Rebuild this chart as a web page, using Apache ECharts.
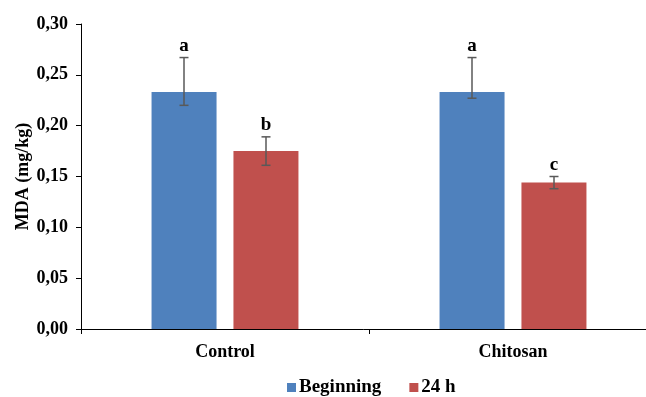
<!DOCTYPE html>
<html>
<head>
<meta charset="utf-8">
<script src="https://cdn.jsdelivr.net/npm/echarts@6/dist/echarts.min.js"></script>
<style>
html,body{margin:0;padding:0;background:#fff;}
#chart{width:646px;height:397px;}
</style>
</head>
<body>
<div id="chart"></div>
<script>
var categories = ['Control', 'Chitosan'];
var seriesNames = ['Beginning', '24 h'];
var beginningValues = [0.233, 0.233];
var beginningErrLow = [0.220, 0.227];
var beginningErrHigh = [0.267, 0.267];
var beginningLetters = ['a', 'a'];
var h24Values = [0.175, 0.144];
var h24ErrLow = [0.161, 0.138];
var h24ErrHigh = [0.189, 0.150];
var h24Letters = ['b', 'c'];
var yTicks = [0, 0.05, 0.10, 0.15, 0.20, 0.25, 0.30];

var FONT = '"Liberation Serif", "Times New Roman", serif';
var BLUE = '#4F81BD', RED = '#C0504D';

function errSeries(low, high, letters, offset) {
  var data = categories.map(function (c, i) { return [i, low[i], high[i], letters[i]]; });
  return {
    type: 'custom',
    silent: true,
    z: 5,
    clip: false,
    data: data,
    renderItem: function (params, api) {
      var idx = api.value(0);
      var pLow = api.coord([idx, api.value(1)]);
      var pHigh = api.coord([idx, api.value(2)]);
      var x = pLow[0] + offset;
      var cap = 4.5;
      var st = { stroke: '#595959', lineWidth: 1.5 };
      return {
        type: 'group',
        children: [
          { type: 'line', shape: { x1: x, y1: pLow[1], x2: x, y2: pHigh[1] }, style: st },
          { type: 'line', shape: { x1: x - cap, y1: pLow[1], x2: x + cap, y2: pLow[1] }, style: st },
          { type: 'line', shape: { x1: x - cap, y1: pHigh[1], x2: x + cap, y2: pHigh[1] }, style: st },
          { type: 'text', style: { text: letters[params.dataIndex], x: x, y: pHigh[1] - 2,
              align: 'center', verticalAlign: 'bottom', fill: '#000',
              font: 'bold 19px ' + FONT } }
        ]
      };
    }
  };
}

var chart = echarts.init(document.getElementById('chart'), null, { renderer: 'canvas' });
chart.setOption({
  animation: false,
  backgroundColor: '#fff',
  grid: { left: 81, top: 24, right: -11, bottom: 68, containLabel: false, outerBoundsMode: 'none' },
  legend: {
    data: seriesNames,
    left: 282,
    top: 373,
    itemWidth: 9,
    itemHeight: 9,
    itemGap: 28,
    icon: 'rect',
    textStyle: { fontFamily: FONT, fontWeight: 'bold', fontSize: 19, color: '#000', padding: [0, 0, 0, -2] }
  },
  xAxis: {
    type: 'category',
    data: categories,
    axisLine: { lineStyle: { color: '#000', width: 1 } },
    axisTick: { show: true, length: 5, lineStyle: { color: '#000' } },
    axisLabel: { color: '#000', fontFamily: FONT, fontWeight: 'bold', fontSize: 18, margin: 14 }
  },
  yAxis: {
    type: 'value',
    min: 0,
    max: 0.3,
    interval: 0.05,
    name: 'MDA (mg/kg)',
    nameLocation: 'middle',
    nameGap: 49,
    nameMoveOverlap: false,
    nameTextStyle: { color: '#000', fontFamily: FONT, fontWeight: 'bold', fontSize: 18 },
    axisLine: { show: true, lineStyle: { color: '#000', width: 1 } },
    axisTick: { show: true, length: 5, lineStyle: { color: '#000' } },
    splitLine: { show: false },
    axisLabel: {
      color: '#000', fontFamily: FONT, fontWeight: 'bold', fontSize: 18, margin: 13,
      formatter: function (v) { return v.toFixed(2).replace('.', ','); }
    }
  },
  series: [
    { name: seriesNames[0], type: 'bar', data: beginningValues, barWidth: 65, barGap: '26%',
      itemStyle: { color: BLUE } },
    { name: seriesNames[1], type: 'bar', data: h24Values, barWidth: 65, barGap: '26%',
      itemStyle: { color: RED } },
    errSeries(beginningErrLow, beginningErrHigh, beginningLetters, -41),
    errSeries(h24ErrLow, h24ErrHigh, h24Letters, 41)
  ]
});
</script>
</body>
</html>
